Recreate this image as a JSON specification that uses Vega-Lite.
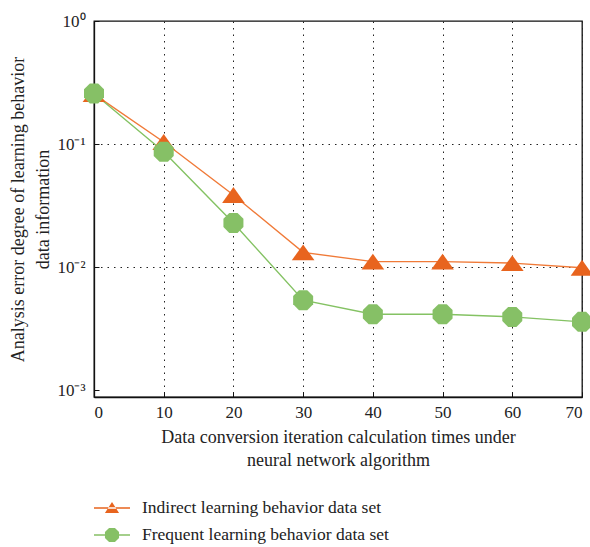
{
  "$schema": "https://vega.github.io/schema/vega-lite/v6.json",
  "width": 488,
  "height": 376,
  "autosize": "none",
  "padding": {"left": 94, "top": 21, "right": 8, "bottom": 150},
  "background": "white",
  "config": {
    "font": "Liberation Serif",
    "view": {"stroke": "#111", "strokeWidth": 1.3},
    "axis": {
      "domainColor": "#111",
      "domainWidth": 1.3,
      "tickColor": "#111",
      "tickWidth": 1,
      "gridColor": "#222",
      "gridDash": [1.5, 5],
      "gridWidth": 1,
      "labelFontSize": 17,
      "labelColor": "#222",
      "titleFontSize": 18,
      "titleFontWeight": "normal",
      "titleColor": "#222"
    }
  },
  "data": {
    "values": [
      {"iter": 0, "err": 0.255, "series": "Indirect learning behavior data set"},
      {"iter": 10, "err": 0.104, "series": "Indirect learning behavior data set"},
      {"iter": 20, "err": 0.0386, "series": "Indirect learning behavior data set"},
      {"iter": 30, "err": 0.0132, "series": "Indirect learning behavior data set"},
      {"iter": 40, "err": 0.0111, "series": "Indirect learning behavior data set"},
      {"iter": 50, "err": 0.0111, "series": "Indirect learning behavior data set"},
      {"iter": 60, "err": 0.0108, "series": "Indirect learning behavior data set"},
      {"iter": 70, "err": 0.0099, "series": "Indirect learning behavior data set"},
      {"iter": 0, "err": 0.258, "series": "Frequent learning behavior data set"},
      {"iter": 10, "err": 0.0867, "series": "Frequent learning behavior data set"},
      {"iter": 20, "err": 0.0229, "series": "Frequent learning behavior data set"},
      {"iter": 30, "err": 0.0054, "series": "Frequent learning behavior data set"},
      {"iter": 40, "err": 0.00415, "series": "Frequent learning behavior data set"},
      {"iter": 50, "err": 0.00415, "series": "Frequent learning behavior data set"},
      {"iter": 60, "err": 0.00395, "series": "Frequent learning behavior data set"},
      {"iter": 70, "err": 0.0036, "series": "Frequent learning behavior data set"}
    ]
  },
  "encoding": {
    "x": {
      "field": "iter",
      "type": "quantitative",
      "scale": {"domain": [0, 70], "nice": false, "zero": false},
      "axis": {
        "values": [0, 10, 20, 30, 40, 50, 60, 70],
        "grid": true,
        "tickSize": -5,
        "labelPadding": 12,
        "title": ["Data conversion iteration calculation times under", "neural network algorithm"],
        "titleLineHeight": 23,
        "titlePadding": 8
      }
    },
    "y": {
      "field": "err",
      "type": "quantitative",
      "scale": {"type": "log", "domain": [0.000883, 1], "nice": false},
      "axis": {
        "values": [1, 0.1, 0.01, 0.001],
        "grid": true,
        "gridOpacity": {"condition": {"test": "datum.value > 0.5 || datum.value < 0.005", "value": 0}, "value": 1},
        "tickSize": -5,
        "labelPadding": 14,
        "labelExpr": "datum.value >= 0.5 ? '10⁰' : datum.value >= 0.05 ? '10⁻¹' : datum.value >= 0.005 ? '10⁻²' : '10⁻³'",
        "title": ["Analysis error degree of learning behavior", "data information"],
        "titleLineHeight": 25,
        "titlePadding": 4
      }
    }
  },
  "layer": [
    {
      "mark": {"type": "line", "strokeWidth": 1.4},
      "encoding": {
        "color": {
          "field": "series",
          "type": "nominal",
          "scale": {"domain": ["Indirect learning behavior data set", "Frequent learning behavior data set"], "range": ["#F07A38", "#84C263"]},
          "legend": null
        }
      }
    },
    {
      "mark": {"type": "point", "filled": true, "size": 484, "opacity": 1},
      "encoding": {
        "color": {
          "field": "series",
          "type": "nominal",
          "scale": {"domain": ["Indirect learning behavior data set", "Frequent learning behavior data set"], "range": ["#E8641E", "#86C066"]},
          "legend": {
            "title": null,
            "orient": "none",
            "legendX": 7,
            "legendY": 476,
            "padding": 0,
            "labelFontSize": 17.5,
            "labelColor": "#222",
            "labelLimit": 0,
            "labelOffset": 19,
            "rowPadding": 7,
            "symbolSize": 484,
            "symbolStrokeWidth": 0,
            "symbolOpacity": 1,
            "encode": {
              "symbols": {
                "update": {
                  "shape": {"signal": "datum.value === 'Indirect learning behavior data set' ? 'M-1.64,-0.07H1.64V0.07H-1.64Z M-0.64,0.45L0.64,0.45L0,-0.55Z' : 'M-1.64,-0.07H1.64V0.07H-1.64Z M0.64,0.27L0.27,0.64L-0.27,0.64L-0.64,0.27L-0.64,-0.27L-0.27,-0.64L0.27,-0.64L0.64,-0.27Z'"}
                }
              }
            }
          }
        },
        "shape": {
          "field": "series",
          "type": "nominal",
          "scale": {"domain": ["Indirect learning behavior data set", "Frequent learning behavior data set"], "range": ["M-1.03,0.72L1.03,0.72L0,-0.72Z", "M0.909,0.376L0.376,0.909L-0.376,0.909L-0.909,0.376L-0.909,-0.376L-0.376,-0.909L0.376,-0.909L0.909,-0.376Z"]},
          "legend": null
        }
      }
    }
  ],
  "resolve": {"scale": {"color": "independent"}}
}
